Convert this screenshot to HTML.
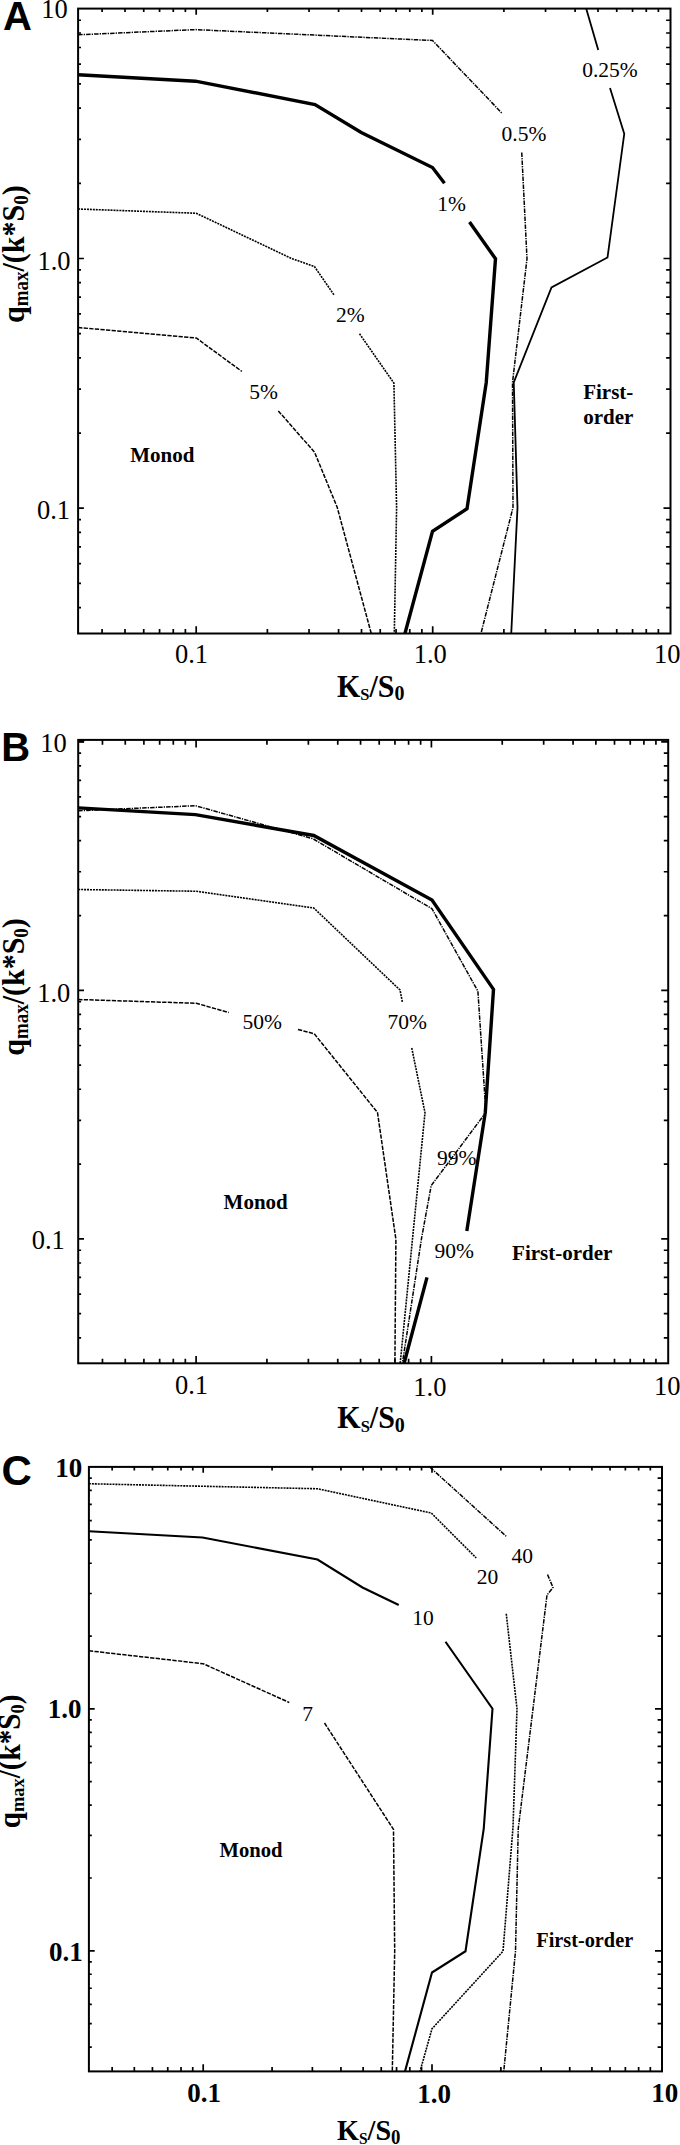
<!DOCTYPE html>
<html><head><meta charset="utf-8"><style>
html,body{margin:0;padding:0;background:#fff;}
svg{display:block;}
</style></head><body>
<svg width="680" height="2145" viewBox="0 0 680 2145">
<rect width="680" height="2145" fill="#fff"/>
<rect x="78.1" y="8.6" width="592.4" height="624.9" fill="none" stroke="#000" stroke-width="2"/>
<path d="M102.09 633.5v-4.5M102.09 8.6v3.3M78.1 607.57h2.9M670.5 607.57h-4.4M125.01 633.5v-4.5M125.01 8.6v3.3M78.1 583.37h2.9M670.5 583.37h-4.4M143.73 633.5v-4.5M143.73 8.6v3.3M78.1 563.6h2.9M670.5 563.6h-4.4M159.57 633.5v-4.5M159.57 8.6v3.3M78.1 546.88h2.9M670.5 546.88h-4.4M173.28 633.5v-4.5M173.28 8.6v3.3M78.1 532.4h2.9M670.5 532.4h-4.4M185.38 633.5v-4.5M185.38 8.6v3.3M78.1 519.63h2.9M670.5 519.63h-4.4M196.2 633.5v-7.2M196.2 8.6v6.1M78.1 508.2h5.8M670.5 508.2h-7.0M267.39 633.5v-4.5M267.39 8.6v3.3M78.1 433.03h2.9M670.5 433.03h-4.4M309.04 633.5v-4.5M309.04 8.6v3.3M78.1 389.06h2.9M670.5 389.06h-4.4M338.59 633.5v-4.5M338.59 8.6v3.3M78.1 357.87h2.9M670.5 357.87h-4.4M361.51 633.5v-4.5M361.51 8.6v3.3M78.1 333.67h2.9M670.5 333.67h-4.4M380.23 633.5v-4.5M380.23 8.6v3.3M78.1 313.9h2.9M670.5 313.9h-4.4M396.07 633.5v-4.5M396.07 8.6v3.3M78.1 297.18h2.9M670.5 297.18h-4.4M409.78 633.5v-4.5M409.78 8.6v3.3M78.1 282.7h2.9M670.5 282.7h-4.4M421.88 633.5v-4.5M421.88 8.6v3.3M78.1 269.93h2.9M670.5 269.93h-4.4M432.7 633.5v-7.2M432.7 8.6v6.1M78.1 258.5h5.8M670.5 258.5h-7.0M503.89 633.5v-4.5M503.89 8.6v3.3M78.1 183.33h2.9M670.5 183.33h-4.4M545.54 633.5v-4.5M545.54 8.6v3.3M78.1 139.36h2.9M670.5 139.36h-4.4M575.09 633.5v-4.5M575.09 8.6v3.3M78.1 108.17h2.9M670.5 108.17h-4.4M598.01 633.5v-4.5M598.01 8.6v3.3M78.1 83.97h2.9M670.5 83.97h-4.4M616.73 633.5v-4.5M616.73 8.6v3.3M78.1 64.2h2.9M670.5 64.2h-4.4M632.57 633.5v-4.5M632.57 8.6v3.3M78.1 47.48h2.9M670.5 47.48h-4.4M646.28 633.5v-4.5M646.28 8.6v3.3M78.1 33h2.9M670.5 33h-4.4M658.38 633.5v-4.5M658.38 8.6v3.3M78.1 20.23h2.9M670.5 20.23h-4.4" stroke="#000" stroke-width="1.7" fill="none"/>
<polyline points="78.1,34.8 195.5,29.6 432.5,40.5 501.75,113" stroke-width="1.5" fill="none" stroke="#000" stroke-dasharray="4.5 1.1 1.3 1.1"/>
<polyline points="521.75,152.5 527,258.75 512.5,382.5 513,507.5 481,633.3" stroke-width="1.5" fill="none" stroke="#000" stroke-dasharray="4.5 1.1 1.3 1.1"/>
<polyline points="78.1,74.8 195.5,81.2 315,104.5 361.25,132.5 432.5,167.5 444.5,183.25" stroke-width="3.4" fill="none" stroke="#000" stroke-linejoin="miter"/>
<polyline points="469.5,222 495.5,258.75 486.25,382.5 467,508.75 432.5,531.25 405,633.3" stroke-width="3.4" fill="none" stroke="#000" stroke-linejoin="miter"/>
<polyline points="586.25,8.7 598.25,50" stroke-width="1.8" fill="none" stroke="#000"/>
<polyline points="610,88 624.25,133.75 607.5,257.5 551.5,287.5 513.75,382.5 517.5,507.8 511.25,633.3" stroke-width="1.8" fill="none" stroke="#000"/>
<polyline points="78.1,209 196.25,213.25 291.8,258.6 314.4,266.5 333.9,294.7" stroke-width="1.6" fill="none" stroke="#000" stroke-dasharray="2 0.95"/>
<polyline points="359.5,333.75 393.9,383.1 396.6,508 394.3,633.3" stroke-width="1.6" fill="none" stroke="#000" stroke-dasharray="2 0.95"/>
<polyline points="78.1,327.5 196.25,338 241.8,371.4" stroke-width="1.5" fill="none" stroke="#000" stroke-dasharray="4.3 1.3"/>
<polyline points="278.3,410.9 314.6,452.3 337.2,507.3 371.2,633.3" stroke-width="1.5" fill="none" stroke="#000" stroke-dasharray="4.3 1.3"/>
<rect x="78.2" y="739.9" width="590" height="623.4" fill="none" stroke="#000" stroke-width="2"/>
<path d="M102.46 1363.3v-4.5M102.46 739.9v4.8M78.2 1337.81h2.9M668.2 1337.81h-4.4M125.27 1363.3v-4.5M125.27 739.9v4.8M78.2 1313.72h2.9M668.2 1313.72h-4.4M143.9 1363.3v-4.5M143.9 739.9v4.8M78.2 1294.04h2.9M668.2 1294.04h-4.4M159.65 1363.3v-4.5M159.65 739.9v4.8M78.2 1277.4h2.9M668.2 1277.4h-4.4M173.3 1363.3v-4.5M173.3 739.9v4.8M78.2 1262.99h2.9M668.2 1262.99h-4.4M185.33 1363.3v-4.5M185.33 739.9v4.8M78.2 1250.27h2.9M668.2 1250.27h-4.4M196.1 1363.3v-7.2M196.1 739.9v7.6M78.2 1238.9h5.8M668.2 1238.9h-7.0M266.93 1363.3v-4.5M266.93 739.9v4.8M78.2 1164.08h2.9M668.2 1164.08h-4.4M308.37 1363.3v-4.5M308.37 739.9v4.8M78.2 1120.31h2.9M668.2 1120.31h-4.4M337.76 1363.3v-4.5M337.76 739.9v4.8M78.2 1089.26h2.9M668.2 1089.26h-4.4M360.57 1363.3v-4.5M360.57 739.9v4.8M78.2 1065.17h2.9M668.2 1065.17h-4.4M379.2 1363.3v-4.5M379.2 739.9v4.8M78.2 1045.49h2.9M668.2 1045.49h-4.4M394.95 1363.3v-4.5M394.95 739.9v4.8M78.2 1028.85h2.9M668.2 1028.85h-4.4M408.6 1363.3v-4.5M408.6 739.9v4.8M78.2 1014.44h2.9M668.2 1014.44h-4.4M420.63 1363.3v-4.5M420.63 739.9v4.8M78.2 1001.72h2.9M668.2 1001.72h-4.4M431.4 1363.3v-7.2M431.4 739.9v7.6M78.2 990.35h5.8M668.2 990.35h-7.0M502.23 1363.3v-4.5M502.23 739.9v4.8M78.2 915.53h2.9M668.2 915.53h-4.4M543.67 1363.3v-4.5M543.67 739.9v4.8M78.2 871.76h2.9M668.2 871.76h-4.4M573.06 1363.3v-4.5M573.06 739.9v4.8M78.2 840.71h2.9M668.2 840.71h-4.4M595.87 1363.3v-4.5M595.87 739.9v4.8M78.2 816.62h2.9M668.2 816.62h-4.4M614.5 1363.3v-4.5M614.5 739.9v4.8M78.2 796.94h2.9M668.2 796.94h-4.4M630.25 1363.3v-4.5M630.25 739.9v4.8M78.2 780.3h2.9M668.2 780.3h-4.4M643.9 1363.3v-4.5M643.9 739.9v4.8M78.2 765.89h2.9M668.2 765.89h-4.4M655.93 1363.3v-4.5M655.93 739.9v4.8M78.2 753.17h2.9M668.2 753.17h-4.4M78.2 741.8h5.8M668.2 741.8h-7.0" stroke="#000" stroke-width="1.7" fill="none"/>
<rect x="78.2" y="740" width="6" height="2.4" fill="#000"/>
<polyline points="78.2,810.8 195.4,805.7 313,838.75 432,908.75 477.9,991.2 485.9,1112.4 431.2,1185.6 421.5,1238.6 402.4,1363.2" stroke-width="1.5" fill="none" stroke="#000" stroke-dasharray="4.5 1.1 1.3 1.1"/>
<polyline points="78.2,807.9 195.4,814.6 313.75,835.5 432,900 493.5,989.4 485.3,1112.4 466.8,1231" stroke-width="3.4" fill="none" stroke="#000" stroke-linejoin="miter"/>
<polyline points="427,1277.4 404.1,1363.2" stroke-width="3.4" fill="none" stroke="#000" stroke-linejoin="miter"/>
<polyline points="78.2,889.5 196.25,891.25 313.75,908 400,990 402.5,1002.5" stroke-width="1.6" fill="none" stroke="#000" stroke-dasharray="2 0.95"/>
<polyline points="411.75,1048 425,1112.7 400.2,1363.2" stroke-width="1.6" fill="none" stroke="#000" stroke-dasharray="2 0.95"/>
<polyline points="78.2,999.5 196.25,1003.25 228.75,1012.5" stroke-width="1.5" fill="none" stroke="#000" stroke-dasharray="4.3 1.3"/>
<polyline points="298,1029.5 314.25,1033.75 377.5,1112.5 395.9,1239.4 394.9,1363.2" stroke-width="1.5" fill="none" stroke="#000" stroke-dasharray="4.3 1.3"/>
<rect x="88.9" y="1466.9" width="573.1" height="604.5" fill="none" stroke="#000" stroke-width="2"/>
<path d="M112.15 2071.4v-4.5M112.15 1466.9v3.6M88.9 2047.06h2.9M662 2047.06h-4.4M134.32 2071.4v-4.5M134.32 1466.9v3.6M88.9 2023.62h2.9M662 2023.62h-4.4M152.44 2071.4v-4.5M152.44 1466.9v3.6M88.9 2004.47h2.9M662 2004.47h-4.4M167.76 2071.4v-4.5M167.76 1466.9v3.6M88.9 1988.27h2.9M662 1988.27h-4.4M181.03 2071.4v-4.5M181.03 1466.9v3.6M88.9 1974.24h2.9M662 1974.24h-4.4M192.73 2071.4v-4.5M192.73 1466.9v3.6M88.9 1961.87h2.9M662 1961.87h-4.4M203.2 2071.4v-7.2M203.2 1466.9v5.8M88.9 1950.8h5.8M662 1950.8h-7.0M272.08 2071.4v-4.5M272.08 1466.9v3.6M88.9 1877.98h2.9M662 1877.98h-4.4M312.37 2071.4v-4.5M312.37 1466.9v3.6M88.9 1835.38h2.9M662 1835.38h-4.4M340.95 2071.4v-4.5M340.95 1466.9v3.6M88.9 1805.16h2.9M662 1805.16h-4.4M363.12 2071.4v-4.5M363.12 1466.9v3.6M88.9 1781.72h2.9M662 1781.72h-4.4M381.24 2071.4v-4.5M381.24 1466.9v3.6M88.9 1762.57h2.9M662 1762.57h-4.4M396.56 2071.4v-4.5M396.56 1466.9v3.6M88.9 1746.37h2.9M662 1746.37h-4.4M409.83 2071.4v-4.5M409.83 1466.9v3.6M88.9 1732.34h2.9M662 1732.34h-4.4M421.53 2071.4v-4.5M421.53 1466.9v3.6M88.9 1719.97h2.9M662 1719.97h-4.4M432 2071.4v-7.2M432 1466.9v5.8M88.9 1708.9h5.8M662 1708.9h-7.0M500.88 2071.4v-4.5M500.88 1466.9v3.6M88.9 1636.08h2.9M662 1636.08h-4.4M541.17 2071.4v-4.5M541.17 1466.9v3.6M88.9 1593.48h2.9M662 1593.48h-4.4M569.75 2071.4v-4.5M569.75 1466.9v3.6M88.9 1563.26h2.9M662 1563.26h-4.4M591.92 2071.4v-4.5M591.92 1466.9v3.6M88.9 1539.82h2.9M662 1539.82h-4.4M610.04 2071.4v-4.5M610.04 1466.9v3.6M88.9 1520.67h2.9M662 1520.67h-4.4M625.36 2071.4v-4.5M625.36 1466.9v3.6M88.9 1504.47h2.9M662 1504.47h-4.4M638.63 2071.4v-4.5M638.63 1466.9v3.6M88.9 1490.44h2.9M662 1490.44h-4.4M650.33 2071.4v-4.5M650.33 1466.9v3.6M88.9 1478.07h2.9M662 1478.07h-4.4" stroke="#000" stroke-width="1.7" fill="none"/>
<polyline points="88.9,1483.75 202.5,1486.25 317.5,1488.75 431.25,1513 476.25,1558" stroke-width="1.6" fill="none" stroke="#000" stroke-dasharray="2 0.95"/>
<polyline points="506.25,1613.75 517,1708.75 513,1827.5 503,1951.25 432,2028.75 420,2071.4" stroke-width="1.6" fill="none" stroke="#000" stroke-dasharray="2 0.95"/>
<polyline points="88.9,1531.25 202.5,1537.5 317.5,1559.5 362.5,1587.5 398.75,1605" stroke-width="2.1" fill="none" stroke="#000"/>
<polyline points="445.5,1641.75 492.5,1708.75 483.75,1828.75 465.5,1951.25 432,1972.5 405,2071.4" stroke-width="2.1" fill="none" stroke="#000"/>
<polyline points="430,1467.2 507,1537" stroke-width="1.5" fill="none" stroke="#000" stroke-dasharray="4.5 1.1 1.3 1.1"/>
<polyline points="547.5,1574.5 553,1587.5 547,1595 518.25,1828.75 515.5,1951.25 503.75,2071.4" stroke-width="1.5" fill="none" stroke="#000" stroke-dasharray="4.5 1.1 1.3 1.1"/>
<polyline points="88.9,1650.75 203.25,1663.75 289.25,1702.5" stroke-width="1.5" fill="none" stroke="#000" stroke-dasharray="4.3 1.3"/>
<polyline points="324.5,1723 393.5,1829.4 394.7,1951 392.3,2071.4" stroke-width="1.5" fill="none" stroke="#000" stroke-dasharray="4.3 1.3"/>
<text x="54.6" y="18.2" font-family="Liberation Serif" font-size="26.5" text-anchor="middle">10</text>
<text x="54" y="269.6" font-family="Liberation Serif" font-size="26.5" text-anchor="middle">1.0</text>
<text x="53.5" y="518.8" font-family="Liberation Serif" font-size="26.5" text-anchor="middle">0.1</text>
<text x="191.5" y="663" font-family="Liberation Serif" font-size="26.5" text-anchor="middle">0.1</text>
<text x="430.2" y="663.3" font-family="Liberation Serif" font-size="26.5" text-anchor="middle">1.0</text>
<text x="667.2" y="663.1" font-family="Liberation Serif" font-size="26.5" text-anchor="middle">10</text>
<text x="53.4" y="751.7" font-family="Liberation Serif" font-size="26.5" text-anchor="middle">10</text>
<text x="53.7" y="1001.8" font-family="Liberation Serif" font-size="26.5" text-anchor="middle">1.0</text>
<text x="48.3" y="1249.3" font-family="Liberation Serif" font-size="26.5" text-anchor="middle">0.1</text>
<text x="191.5" y="1394.2" font-family="Liberation Serif" font-size="26.5" text-anchor="middle">0.1</text>
<text x="429.9" y="1395.6" font-family="Liberation Serif" font-size="26.5" text-anchor="middle">1.0</text>
<text x="667.2" y="1394.7" font-family="Liberation Serif" font-size="26.5" text-anchor="middle">10</text>
<text x="68.8" y="1477" font-family="Liberation Serif" font-size="27" text-anchor="middle" font-weight="bold">10</text>
<text x="64.7" y="1718.2" font-family="Liberation Serif" font-size="27" text-anchor="middle" font-weight="bold">1.0</text>
<text x="65.8" y="1960.9" font-family="Liberation Serif" font-size="27" text-anchor="middle" font-weight="bold">0.1</text>
<text x="204.1" y="2101.8" font-family="Liberation Serif" font-size="27" text-anchor="middle" font-weight="bold">0.1</text>
<text x="434.2" y="2102.8" font-family="Liberation Serif" font-size="27" text-anchor="middle" font-weight="bold">1.0</text>
<text x="664.7" y="2101.8" font-family="Liberation Serif" font-size="27" text-anchor="middle" font-weight="bold">10</text>
<text x="610" y="77" font-family="Liberation Serif" font-size="21.5" text-anchor="middle">0.25%</text>
<text x="524" y="141.25" font-family="Liberation Serif" font-size="21.5" text-anchor="middle">0.5%</text>
<text x="451.6" y="210.5" font-family="Liberation Serif" font-size="21.5" text-anchor="middle">1%</text>
<text x="350.4" y="322" font-family="Liberation Serif" font-size="21.5" text-anchor="middle">2%</text>
<text x="263.7" y="398.6" font-family="Liberation Serif" font-size="21.5" text-anchor="middle">5%</text>
<text x="262.3" y="1028.75" font-family="Liberation Serif" font-size="21.5" text-anchor="middle">50%</text>
<text x="407.3" y="1028.75" font-family="Liberation Serif" font-size="21.5" text-anchor="middle">70%</text>
<text x="456.6" y="1165.4" font-family="Liberation Serif" font-size="21.5" text-anchor="middle">99%</text>
<text x="454.3" y="1258.4" font-family="Liberation Serif" font-size="21.5" text-anchor="middle">90%</text>
<text x="522.3" y="1563" font-family="Liberation Serif" font-size="21.5" text-anchor="middle">40</text>
<text x="487.5" y="1583.75" font-family="Liberation Serif" font-size="21.5" text-anchor="middle">20</text>
<text x="422.9" y="1625" font-family="Liberation Serif" font-size="21.5" text-anchor="middle">10</text>
<text x="307.5" y="1721.25" font-family="Liberation Serif" font-size="21.5" text-anchor="middle">7</text>
<text x="130.3" y="462.4" font-family="Liberation Serif" font-size="21" text-anchor="start" font-weight="bold">Monod</text>
<text x="583.2" y="398.8" font-family="Liberation Serif" font-size="21" text-anchor="start" font-weight="bold">First-</text>
<text x="583.2" y="423.5" font-family="Liberation Serif" font-size="21" text-anchor="start" font-weight="bold">order</text>
<text x="223.6" y="1208.9" font-family="Liberation Serif" font-size="21" text-anchor="start" font-weight="bold">Monod</text>
<text x="512.1" y="1259.8" font-family="Liberation Serif" font-size="21" text-anchor="start" font-weight="bold">First-order</text>
<text x="219.6" y="1857.2" font-family="Liberation Serif" font-size="20.6" text-anchor="start" font-weight="bold">Monod</text>
<text x="536.3" y="1946.8" font-family="Liberation Serif" font-size="20.3" text-anchor="start" font-weight="bold">First-order</text>
<text x="3.0" y="30" font-family="Liberation Sans" font-size="40" font-weight="bold">A</text>
<text x="1.3" y="761" font-family="Liberation Sans" font-size="40" font-weight="bold">B</text>
<text x="1.5" y="1484.8" font-family="Liberation Sans" font-size="42" font-weight="bold">C</text>
<text transform="translate(337,696.5) scale(1,1.07)" font-family="Liberation Serif" font-weight="bold" font-size="30">K<tspan font-size="16.5" dy="3.6">S</tspan><tspan dy="-3.6">/S</tspan><tspan font-size="20" dy="3.6">0</tspan></text>
<text transform="translate(337.3,1428.1) scale(1,1.07)" font-family="Liberation Serif" font-weight="bold" font-size="30">K<tspan font-size="16.5" dy="3.6">S</tspan><tspan dy="-3.6">/S</tspan><tspan font-size="20" dy="3.6">0</tspan></text>
<text transform="translate(337,2140) scale(1,1.07)" font-family="Liberation Serif" font-weight="bold" font-size="28.2">K<tspan font-size="15.51" dy="3.38">S</tspan><tspan dy="-3.38">/S</tspan><tspan font-size="18.8" dy="3.38">0</tspan></text>
<text transform="translate(23.8,323) rotate(-90) scale(1,1.07)" font-family="Liberation Serif" font-weight="bold" font-size="30">q<tspan font-size="19" dy="4">max</tspan><tspan dy="-4">/(k*S</tspan><tspan font-size="19" dy="4">0</tspan><tspan dy="-4">)</tspan></text>
<text transform="translate(23.8,1055.8) rotate(-90) scale(1,1.07)" font-family="Liberation Serif" font-weight="bold" font-size="30">q<tspan font-size="19" dy="4">max</tspan><tspan dy="-4">/(k*S</tspan><tspan font-size="19" dy="4">0</tspan><tspan dy="-4">)</tspan></text>
<text transform="translate(20.3,1828.2) rotate(-90) scale(1,1.07)" font-family="Liberation Serif" font-weight="bold" font-size="29.1">q<tspan font-size="18.43" dy="3.88">max</tspan><tspan dy="-3.88">/(k*S</tspan><tspan font-size="18.43" dy="3.88">0</tspan><tspan dy="-3.88">)</tspan></text>
</svg>
</body></html>
